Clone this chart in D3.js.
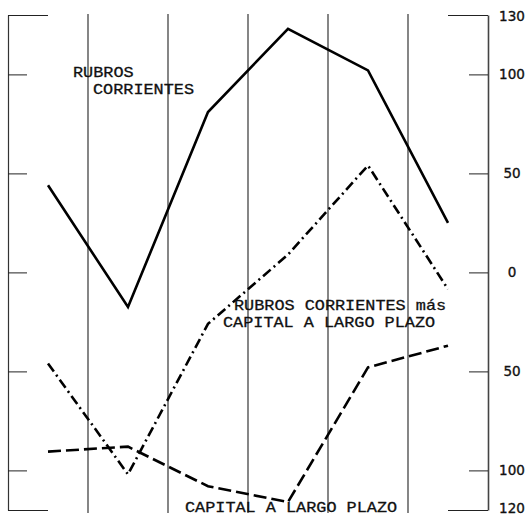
<!DOCTYPE html>
<html>
<head>
<meta charset="utf-8">
<script src="https://cdnjs.cloudflare.com/ajax/libs/d3/7.8.5/d3.min.js"></script>
<style>
  body { margin: 0; background: #fff; }
  .lbl { font-family: "Liberation Mono", "DejaVu Sans Mono", monospace; font-size: 15px; fill: #111; stroke: #111; stroke-width: 0.3; }
  .axis text { font-family: "DejaVu Sans", sans-serif; font-size: 13.5px; fill: #111; stroke: #111; stroke-width: 0.35; }
</style>
</head>
<body>
<div id="chart"></div>
<script>
// six periods (unlabelled in the original)
var periods = ['1', '2', '3', '4', '5', '6']
var tickValues = [130, 100, 50, 0, -50, -100, -120]

var rubrosCorrientes = [44, -17.5, 81, 123, 102, 25]
var rubrosMasCapital = [-46, -102, -26, 9, 54, -8.5]
var capitalLargoPlazo = [-90.5, -88, -108, -116, -48, -37]

var W = 531, H = 516

var svg = d3.select('#chart')
  .append('svg')
  .attr('width', W)
  .attr('height', H)

var x = d3.scaleBand()
  .domain(periods)
  .range([8, 488])
  .padding(0)

var y = d3.scaleLinear()
  .domain([-120, 130])
  .range([510, 15])

// vertical grid lines between periods
svg.append('g')
  .selectAll('line')
  .data(periods.slice(1))
  .enter()
  .append('line')
  .attr('x1', d => x(d))
  .attr('x2', d => x(d))
  .attr('y1', y(130) - 1)
  .attr('y2', 513)
  .attr('stroke', '#222')
  .attr('stroke-width', 1.1)

// right axis
var rightAxis = d3.axisRight(y)
  .tickValues(tickValues)
  .tickSizeInner(-19)
  .tickSizeOuter(0)
  .tickPadding(24)
  .tickFormat(d => Math.abs(d))

var gR = svg.append('g')
  .attr('class', 'axis')
  .attr('transform', 'translate(488,0)')
  .call(rightAxis)
gR.select('.domain').attr('stroke', '#444').attr('stroke-width', 1.6)
gR.selectAll('.tick line')
  .attr('stroke', '#222')
  .attr('x2', d => (d == 130 || d == -120) ? -40 : -19)
gR.selectAll('.tick text')
  .style('text-anchor', 'middle')
  .attr('y', d => d == -120 ? -2 : (d == 130 ? 1 : 0))

// left frame
var leftAxis = d3.axisLeft(y)
  .tickValues(tickValues)
  .tickSizeInner(-19)
  .tickSizeOuter(0)
  .tickFormat('')

var gL = svg.append('g')
  .attr('class', 'axis')
  .attr('transform', 'translate(8,0)')
  .call(leftAxis)
gL.select('.domain').attr('stroke', '#333').attr('stroke-width', 1.2)
gL.selectAll('.tick line')
  .attr('stroke', '#222')
  .attr('x2', d => (d == 130 || d == -120) ? 40 : 19)

// series
var series = [
  { name: 'corrientes', values: rubrosCorrientes, dash: null },
  { name: 'mas', values: rubrosMasCapital, dash: '10,4,2,4' },
  { name: 'capital', values: capitalLargoPlazo, dash: '13,5' }
]

var line = d3.line()
  .x((d, i) => x(periods[i]) + x.bandwidth() / 2)
  .y(d => y(d))

svg.append('g')
  .selectAll('path')
  .data(series)
  .enter()
  .append('path')
  .attr('d', d => line(d.values))
  .attr('fill', 'none')
  .attr('stroke', '#000')
  .attr('stroke-width', 2.6)
  .attr('stroke-dasharray', d => d.dash)
  .attr('stroke-linejoin', 'miter')

// labels
var labels = [
  { t: 'RUBROS', x: 73, y: 77 },
  { t: 'CORRIENTES', x: 93, y: 94 },
  { t: 'RUBROS CORRIENTES más', x: 234, y: 310 },
  { t: 'CAPITAL A LARGO PLAZO', x: 223, y: 327 },
  { t: 'CAPITAL A LARGO PLAZO', x: 185, y: 512 }
]

svg.append('g')
  .selectAll('text')
  .data(labels)
  .enter()
  .append('text')
  .attr('class', 'lbl')
  .attr('x', d => d.x)
  .attr('y', d => d.y)
  .attr('textLength', d => d.t.length * 10.1)
  .attr('lengthAdjust', 'spacingAndGlyphs')
  .text(d => d.t)
</script>
</body>
</html>
